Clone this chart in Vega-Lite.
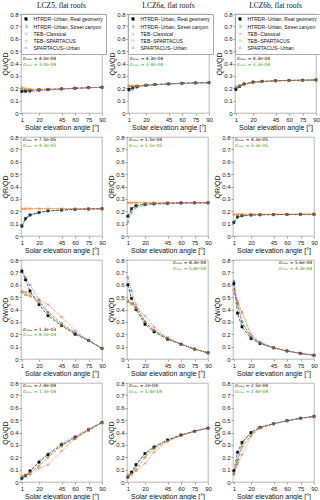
{
"$schema":"https://vega.github.io/schema/vega-lite/v6.json",
"padding":{"left":0,"top":1,"right":1,"bottom":0},
"datasets":{"d":[
{"p":"U5","s":"a","a":1,"v":0.175},{"p":"U5","s":"a","a":5,"v":0.178},{"p":"U5","s":"a","a":10,"v":0.182},{"p":"U5","s":"a","a":20,"v":0.188},{"p":"U5","s":"a","a":30,"v":0.19},{"p":"U5","s":"a","a":45,"v":0.195},{"p":"U5","s":"a","a":60,"v":0.2},{"p":"U5","s":"a","a":75,"v":0.205},{"p":"U5","s":"a","a":90,"v":0.208},
{"p":"U5","s":"b","a":1,"v":0.185},{"p":"U5","s":"b","a":5,"v":0.185},{"p":"U5","s":"b","a":10,"v":0.186},{"p":"U5","s":"b","a":20,"v":0.19},{"p":"U5","s":"b","a":30,"v":0.192},{"p":"U5","s":"b","a":45,"v":0.196},{"p":"U5","s":"b","a":60,"v":0.2},{"p":"U5","s":"b","a":75,"v":0.205},{"p":"U5","s":"b","a":90,"v":0.208},
{"p":"U5","s":"c","a":1,"v":0.2},{"p":"U5","s":"c","a":5,"v":0.195},{"p":"U5","s":"c","a":10,"v":0.19},{"p":"U5","s":"c","a":20,"v":0.19},{"p":"U5","s":"c","a":30,"v":0.19},{"p":"U5","s":"c","a":45,"v":0.195},{"p":"U5","s":"c","a":60,"v":0.2},{"p":"U5","s":"c","a":75,"v":0.205},{"p":"U5","s":"c","a":90,"v":0.208},
{"p":"U5","s":"d","a":1,"v":0.21},{"p":"U5","s":"d","a":5,"v":0.2},{"p":"U5","s":"d","a":10,"v":0.195},{"p":"U5","s":"d","a":20,"v":0.192},{"p":"U5","s":"d","a":30,"v":0.192},{"p":"U5","s":"d","a":45,"v":0.196},{"p":"U5","s":"d","a":60,"v":0.2},{"p":"U5","s":"d","a":75,"v":0.205},{"p":"U5","s":"d","a":90,"v":0.208},
{"p":"U5","s":"e","a":1,"v":0.175},{"p":"U5","s":"e","a":5,"v":0.17},{"p":"U5","s":"e","a":10,"v":0.17},{"p":"U5","s":"e","a":20,"v":0.178},{"p":"U5","s":"e","a":30,"v":0.185},{"p":"U5","s":"e","a":45,"v":0.192},{"p":"U5","s":"e","a":60,"v":0.198},{"p":"U5","s":"e","a":75,"v":0.203},{"p":"U5","s":"e","a":90,"v":0.207},
{"p":"U6a","s":"a","a":1,"v":0.19},{"p":"U6a","s":"a","a":5,"v":0.205},{"p":"U6a","s":"a","a":10,"v":0.215},{"p":"U6a","s":"a","a":20,"v":0.225},{"p":"U6a","s":"a","a":30,"v":0.23},{"p":"U6a","s":"a","a":45,"v":0.235},{"p":"U6a","s":"a","a":60,"v":0.24},{"p":"U6a","s":"a","a":75,"v":0.243},{"p":"U6a","s":"a","a":90,"v":0.245},
{"p":"U6a","s":"b","a":1,"v":0.215},{"p":"U6a","s":"b","a":5,"v":0.215},{"p":"U6a","s":"b","a":10,"v":0.218},{"p":"U6a","s":"b","a":20,"v":0.225},{"p":"U6a","s":"b","a":30,"v":0.23},{"p":"U6a","s":"b","a":45,"v":0.235},{"p":"U6a","s":"b","a":60,"v":0.24},{"p":"U6a","s":"b","a":75,"v":0.243},{"p":"U6a","s":"b","a":90,"v":0.245},
{"p":"U6a","s":"c","a":1,"v":0.22},{"p":"U6a","s":"c","a":5,"v":0.218},{"p":"U6a","s":"c","a":10,"v":0.22},{"p":"U6a","s":"c","a":20,"v":0.225},{"p":"U6a","s":"c","a":30,"v":0.23},{"p":"U6a","s":"c","a":45,"v":0.235},{"p":"U6a","s":"c","a":60,"v":0.24},{"p":"U6a","s":"c","a":75,"v":0.243},{"p":"U6a","s":"c","a":90,"v":0.245},
{"p":"U6a","s":"d","a":1,"v":0.225},{"p":"U6a","s":"d","a":5,"v":0.22},{"p":"U6a","s":"d","a":10,"v":0.22},{"p":"U6a","s":"d","a":20,"v":0.225},{"p":"U6a","s":"d","a":30,"v":0.23},{"p":"U6a","s":"d","a":45,"v":0.235},{"p":"U6a","s":"d","a":60,"v":0.24},{"p":"U6a","s":"d","a":75,"v":0.243},{"p":"U6a","s":"d","a":90,"v":0.245},
{"p":"U6a","s":"e","a":1,"v":0.18},{"p":"U6a","s":"e","a":5,"v":0.19},{"p":"U6a","s":"e","a":10,"v":0.205},{"p":"U6a","s":"e","a":20,"v":0.22},{"p":"U6a","s":"e","a":30,"v":0.228},{"p":"U6a","s":"e","a":45,"v":0.234},{"p":"U6a","s":"e","a":60,"v":0.239},{"p":"U6a","s":"e","a":75,"v":0.243},{"p":"U6a","s":"e","a":90,"v":0.245},
{"p":"U6b","s":"a","a":1,"v":0.19},{"p":"U6b","s":"a","a":5,"v":0.215},{"p":"U6b","s":"a","a":10,"v":0.235},{"p":"U6b","s":"a","a":20,"v":0.25},{"p":"U6b","s":"a","a":30,"v":0.255},{"p":"U6b","s":"a","a":45,"v":0.26},{"p":"U6b","s":"a","a":60,"v":0.263},{"p":"U6b","s":"a","a":75,"v":0.265},{"p":"U6b","s":"a","a":90,"v":0.267},
{"p":"U6b","s":"b","a":1,"v":0.205},{"p":"U6b","s":"b","a":5,"v":0.22},{"p":"U6b","s":"b","a":10,"v":0.235},{"p":"U6b","s":"b","a":20,"v":0.25},{"p":"U6b","s":"b","a":30,"v":0.255},{"p":"U6b","s":"b","a":45,"v":0.26},{"p":"U6b","s":"b","a":60,"v":0.263},{"p":"U6b","s":"b","a":75,"v":0.265},{"p":"U6b","s":"b","a":90,"v":0.267},
{"p":"U6b","s":"c","a":1,"v":0.21},{"p":"U6b","s":"c","a":5,"v":0.22},{"p":"U6b","s":"c","a":10,"v":0.23},{"p":"U6b","s":"c","a":20,"v":0.245},{"p":"U6b","s":"c","a":30,"v":0.253},{"p":"U6b","s":"c","a":45,"v":0.26},{"p":"U6b","s":"c","a":60,"v":0.263},{"p":"U6b","s":"c","a":75,"v":0.265},{"p":"U6b","s":"c","a":90,"v":0.267},
{"p":"U6b","s":"d","a":1,"v":0.215},{"p":"U6b","s":"d","a":5,"v":0.222},{"p":"U6b","s":"d","a":10,"v":0.232},{"p":"U6b","s":"d","a":20,"v":0.247},{"p":"U6b","s":"d","a":30,"v":0.254},{"p":"U6b","s":"d","a":45,"v":0.26},{"p":"U6b","s":"d","a":60,"v":0.263},{"p":"U6b","s":"d","a":75,"v":0.265},{"p":"U6b","s":"d","a":90,"v":0.267},
{"p":"U6b","s":"e","a":1,"v":0.2},{"p":"U6b","s":"e","a":5,"v":0.215},{"p":"U6b","s":"e","a":10,"v":0.23},{"p":"U6b","s":"e","a":20,"v":0.248},{"p":"U6b","s":"e","a":30,"v":0.255},{"p":"U6b","s":"e","a":45,"v":0.26},{"p":"U6b","s":"e","a":60,"v":0.263},{"p":"U6b","s":"e","a":75,"v":0.265},{"p":"U6b","s":"e","a":90,"v":0.267},
{"p":"R5","s":"a","a":1,"v":0.08},{"p":"R5","s":"a","a":5,"v":0.14},{"p":"R5","s":"a","a":10,"v":0.17},{"p":"R5","s":"a","a":20,"v":0.19},{"p":"R5","s":"a","a":30,"v":0.203},{"p":"R5","s":"a","a":45,"v":0.21},{"p":"R5","s":"a","a":60,"v":0.215},{"p":"R5","s":"a","a":75,"v":0.218},{"p":"R5","s":"a","a":90,"v":0.22},
{"p":"R5","s":"b","a":1,"v":0.08},{"p":"R5","s":"b","a":5,"v":0.14},{"p":"R5","s":"b","a":10,"v":0.17},{"p":"R5","s":"b","a":20,"v":0.19},{"p":"R5","s":"b","a":30,"v":0.203},{"p":"R5","s":"b","a":45,"v":0.21},{"p":"R5","s":"b","a":60,"v":0.215},{"p":"R5","s":"b","a":75,"v":0.218},{"p":"R5","s":"b","a":90,"v":0.22},
{"p":"R5","s":"c","a":1,"v":0.222},{"p":"R5","s":"c","a":5,"v":0.222},{"p":"R5","s":"c","a":10,"v":0.222},{"p":"R5","s":"c","a":20,"v":0.222},{"p":"R5","s":"c","a":30,"v":0.222},{"p":"R5","s":"c","a":45,"v":0.222},{"p":"R5","s":"c","a":60,"v":0.222},{"p":"R5","s":"c","a":75,"v":0.222},{"p":"R5","s":"c","a":90,"v":0.222},
{"p":"R5","s":"d","a":1,"v":0.22},{"p":"R5","s":"d","a":5,"v":0.22},{"p":"R5","s":"d","a":10,"v":0.22},{"p":"R5","s":"d","a":20,"v":0.22},{"p":"R5","s":"d","a":30,"v":0.22},{"p":"R5","s":"d","a":45,"v":0.22},{"p":"R5","s":"d","a":60,"v":0.22},{"p":"R5","s":"d","a":75,"v":0.22},{"p":"R5","s":"d","a":90,"v":0.22},
{"p":"R5","s":"e","a":1,"v":0.078},{"p":"R5","s":"e","a":5,"v":0.138},{"p":"R5","s":"e","a":10,"v":0.168},{"p":"R5","s":"e","a":20,"v":0.189},{"p":"R5","s":"e","a":30,"v":0.202},{"p":"R5","s":"e","a":45,"v":0.21},{"p":"R5","s":"e","a":60,"v":0.215},{"p":"R5","s":"e","a":75,"v":0.218},{"p":"R5","s":"e","a":90,"v":0.22},
{"p":"R6a","s":"a","a":1,"v":0.16},{"p":"R6a","s":"a","a":5,"v":0.22},{"p":"R6a","s":"a","a":10,"v":0.245},{"p":"R6a","s":"a","a":20,"v":0.258},{"p":"R6a","s":"a","a":30,"v":0.262},{"p":"R6a","s":"a","a":45,"v":0.265},{"p":"R6a","s":"a","a":60,"v":0.267},{"p":"R6a","s":"a","a":75,"v":0.268},{"p":"R6a","s":"a","a":90,"v":0.268},
{"p":"R6a","s":"b","a":1,"v":0.16},{"p":"R6a","s":"b","a":5,"v":0.22},{"p":"R6a","s":"b","a":10,"v":0.245},{"p":"R6a","s":"b","a":20,"v":0.258},{"p":"R6a","s":"b","a":30,"v":0.262},{"p":"R6a","s":"b","a":45,"v":0.265},{"p":"R6a","s":"b","a":60,"v":0.267},{"p":"R6a","s":"b","a":75,"v":0.268},{"p":"R6a","s":"b","a":90,"v":0.268},
{"p":"R6a","s":"c","a":1,"v":0.27},{"p":"R6a","s":"c","a":5,"v":0.27},{"p":"R6a","s":"c","a":10,"v":0.27},{"p":"R6a","s":"c","a":20,"v":0.27},{"p":"R6a","s":"c","a":30,"v":0.27},{"p":"R6a","s":"c","a":45,"v":0.27},{"p":"R6a","s":"c","a":60,"v":0.27},{"p":"R6a","s":"c","a":75,"v":0.27},{"p":"R6a","s":"c","a":90,"v":0.27},
{"p":"R6a","s":"d","a":1,"v":0.268},{"p":"R6a","s":"d","a":5,"v":0.268},{"p":"R6a","s":"d","a":10,"v":0.268},{"p":"R6a","s":"d","a":20,"v":0.268},{"p":"R6a","s":"d","a":30,"v":0.268},{"p":"R6a","s":"d","a":45,"v":0.268},{"p":"R6a","s":"d","a":60,"v":0.268},{"p":"R6a","s":"d","a":75,"v":0.268},{"p":"R6a","s":"d","a":90,"v":0.268},
{"p":"R6a","s":"e","a":1,"v":0.11},{"p":"R6a","s":"e","a":5,"v":0.19},{"p":"R6a","s":"e","a":10,"v":0.23},{"p":"R6a","s":"e","a":20,"v":0.248},{"p":"R6a","s":"e","a":30,"v":0.255},{"p":"R6a","s":"e","a":45,"v":0.26},{"p":"R6a","s":"e","a":60,"v":0.265},{"p":"R6a","s":"e","a":75,"v":0.267},{"p":"R6a","s":"e","a":90,"v":0.268},
{"p":"R6b","s":"a","a":1,"v":0.11},{"p":"R6b","s":"a","a":5,"v":0.155},{"p":"R6b","s":"a","a":10,"v":0.165},{"p":"R6b","s":"a","a":20,"v":0.17},{"p":"R6b","s":"a","a":30,"v":0.172},{"p":"R6b","s":"a","a":45,"v":0.173},{"p":"R6b","s":"a","a":60,"v":0.174},{"p":"R6b","s":"a","a":75,"v":0.175},{"p":"R6b","s":"a","a":90,"v":0.175},
{"p":"R6b","s":"b","a":1,"v":0.11},{"p":"R6b","s":"b","a":5,"v":0.155},{"p":"R6b","s":"b","a":10,"v":0.165},{"p":"R6b","s":"b","a":20,"v":0.17},{"p":"R6b","s":"b","a":30,"v":0.172},{"p":"R6b","s":"b","a":45,"v":0.173},{"p":"R6b","s":"b","a":60,"v":0.174},{"p":"R6b","s":"b","a":75,"v":0.175},{"p":"R6b","s":"b","a":90,"v":0.175},
{"p":"R6b","s":"c","a":1,"v":0.176},{"p":"R6b","s":"c","a":5,"v":0.176},{"p":"R6b","s":"c","a":10,"v":0.176},{"p":"R6b","s":"c","a":20,"v":0.176},{"p":"R6b","s":"c","a":30,"v":0.176},{"p":"R6b","s":"c","a":45,"v":0.176},{"p":"R6b","s":"c","a":60,"v":0.176},{"p":"R6b","s":"c","a":75,"v":0.176},{"p":"R6b","s":"c","a":90,"v":0.176},
{"p":"R6b","s":"d","a":1,"v":0.175},{"p":"R6b","s":"d","a":5,"v":0.175},{"p":"R6b","s":"d","a":10,"v":0.175},{"p":"R6b","s":"d","a":20,"v":0.175},{"p":"R6b","s":"d","a":30,"v":0.175},{"p":"R6b","s":"d","a":45,"v":0.175},{"p":"R6b","s":"d","a":60,"v":0.175},{"p":"R6b","s":"d","a":75,"v":0.175},{"p":"R6b","s":"d","a":90,"v":0.175},
{"p":"R6b","s":"e","a":1,"v":0.11},{"p":"R6b","s":"e","a":5,"v":0.15},{"p":"R6b","s":"e","a":10,"v":0.162},{"p":"R6b","s":"e","a":20,"v":0.168},{"p":"R6b","s":"e","a":30,"v":0.171},{"p":"R6b","s":"e","a":45,"v":0.173},{"p":"R6b","s":"e","a":60,"v":0.174},{"p":"R6b","s":"e","a":75,"v":0.175},{"p":"R6b","s":"e","a":90,"v":0.175},
{"p":"W5","s":"a","a":1,"v":0.71},{"p":"W5","s":"a","a":5,"v":0.64},{"p":"W5","s":"a","a":10,"v":0.55},{"p":"W5","s":"a","a":20,"v":0.44},{"p":"W5","s":"a","a":30,"v":0.35},{"p":"W5","s":"a","a":45,"v":0.27},{"p":"W5","s":"a","a":60,"v":0.2},{"p":"W5","s":"a","a":75,"v":0.15},{"p":"W5","s":"a","a":90,"v":0.085},
{"p":"W5","s":"b","a":1,"v":0.54},{"p":"W5","s":"b","a":5,"v":0.52},{"p":"W5","s":"b","a":10,"v":0.51},{"p":"W5","s":"b","a":20,"v":0.46},{"p":"W5","s":"b","a":30,"v":0.37},{"p":"W5","s":"b","a":45,"v":0.27},{"p":"W5","s":"b","a":60,"v":0.21},{"p":"W5","s":"b","a":75,"v":0.15},{"p":"W5","s":"b","a":90,"v":0.085},
{"p":"W5","s":"c","a":1,"v":0.55},{"p":"W5","s":"c","a":5,"v":0.54},{"p":"W5","s":"c","a":10,"v":0.53},{"p":"W5","s":"c","a":20,"v":0.48},{"p":"W5","s":"c","a":30,"v":0.44},{"p":"W5","s":"c","a":45,"v":0.34},{"p":"W5","s":"c","a":60,"v":0.23},{"p":"W5","s":"c","a":75,"v":0.15},{"p":"W5","s":"c","a":90,"v":0.085},
{"p":"W5","s":"d","a":1,"v":0.55},{"p":"W5","s":"d","a":5,"v":0.52},{"p":"W5","s":"d","a":10,"v":0.51},{"p":"W5","s":"d","a":20,"v":0.46},{"p":"W5","s":"d","a":30,"v":0.37},{"p":"W5","s":"d","a":45,"v":0.28},{"p":"W5","s":"d","a":60,"v":0.22},{"p":"W5","s":"d","a":75,"v":0.15},{"p":"W5","s":"d","a":90,"v":0.085},
{"p":"W5","s":"e","a":1,"v":0.72},{"p":"W5","s":"e","a":5,"v":0.66},{"p":"W5","s":"e","a":10,"v":0.6},{"p":"W5","s":"e","a":20,"v":0.48},{"p":"W5","s":"e","a":30,"v":0.38},{"p":"W5","s":"e","a":45,"v":0.29},{"p":"W5","s":"e","a":60,"v":0.21},{"p":"W5","s":"e","a":75,"v":0.15},{"p":"W5","s":"e","a":90,"v":0.085},
{"p":"W6a","s":"a","a":1,"v":0.6},{"p":"W6a","s":"a","a":5,"v":0.49},{"p":"W6a","s":"a","a":10,"v":0.4},{"p":"W6a","s":"a","a":20,"v":0.28},{"p":"W6a","s":"a","a":30,"v":0.22},{"p":"W6a","s":"a","a":45,"v":0.16},{"p":"W6a","s":"a","a":60,"v":0.12},{"p":"W6a","s":"a","a":75,"v":0.08},{"p":"W6a","s":"a","a":90,"v":0.05},
{"p":"W6a","s":"b","a":1,"v":0.47},{"p":"W6a","s":"b","a":5,"v":0.45},{"p":"W6a","s":"b","a":10,"v":0.41},{"p":"W6a","s":"b","a":20,"v":0.3},{"p":"W6a","s":"b","a":30,"v":0.23},{"p":"W6a","s":"b","a":45,"v":0.165},{"p":"W6a","s":"b","a":60,"v":0.12},{"p":"W6a","s":"b","a":75,"v":0.08},{"p":"W6a","s":"b","a":90,"v":0.05},
{"p":"W6a","s":"c","a":1,"v":0.46},{"p":"W6a","s":"c","a":5,"v":0.45},{"p":"W6a","s":"c","a":10,"v":0.42},{"p":"W6a","s":"c","a":20,"v":0.35},{"p":"W6a","s":"c","a":30,"v":0.26},{"p":"W6a","s":"c","a":45,"v":0.175},{"p":"W6a","s":"c","a":60,"v":0.12},{"p":"W6a","s":"c","a":75,"v":0.08},{"p":"W6a","s":"c","a":90,"v":0.05},
{"p":"W6a","s":"d","a":1,"v":0.48},{"p":"W6a","s":"d","a":5,"v":0.44},{"p":"W6a","s":"d","a":10,"v":0.41},{"p":"W6a","s":"d","a":20,"v":0.31},{"p":"W6a","s":"d","a":30,"v":0.24},{"p":"W6a","s":"d","a":45,"v":0.17},{"p":"W6a","s":"d","a":60,"v":0.12},{"p":"W6a","s":"d","a":75,"v":0.08},{"p":"W6a","s":"d","a":90,"v":0.05},
{"p":"W6a","s":"e","a":1,"v":0.66},{"p":"W6a","s":"e","a":5,"v":0.55},{"p":"W6a","s":"e","a":10,"v":0.44},{"p":"W6a","s":"e","a":20,"v":0.3},{"p":"W6a","s":"e","a":30,"v":0.23},{"p":"W6a","s":"e","a":45,"v":0.165},{"p":"W6a","s":"e","a":60,"v":0.12},{"p":"W6a","s":"e","a":75,"v":0.08},{"p":"W6a","s":"e","a":90,"v":0.05},
{"p":"W6b","s":"a","a":1,"v":0.61},{"p":"W6b","s":"a","a":5,"v":0.37},{"p":"W6b","s":"a","a":10,"v":0.26},{"p":"W6b","s":"a","a":20,"v":0.165},{"p":"W6b","s":"a","a":30,"v":0.125},{"p":"W6b","s":"a","a":45,"v":0.09},{"p":"W6b","s":"a","a":60,"v":0.065},{"p":"W6b","s":"a","a":75,"v":0.045},{"p":"W6b","s":"a","a":90,"v":0.03},
{"p":"W6b","s":"b","a":1,"v":0.56},{"p":"W6b","s":"b","a":5,"v":0.44},{"p":"W6b","s":"b","a":10,"v":0.3},{"p":"W6b","s":"b","a":20,"v":0.18},{"p":"W6b","s":"b","a":30,"v":0.13},{"p":"W6b","s":"b","a":45,"v":0.09},{"p":"W6b","s":"b","a":60,"v":0.065},{"p":"W6b","s":"b","a":75,"v":0.045},{"p":"W6b","s":"b","a":90,"v":0.03},
{"p":"W6b","s":"c","a":1,"v":0.53},{"p":"W6b","s":"c","a":5,"v":0.47},{"p":"W6b","s":"c","a":10,"v":0.38},{"p":"W6b","s":"c","a":20,"v":0.2},{"p":"W6b","s":"c","a":30,"v":0.14},{"p":"W6b","s":"c","a":45,"v":0.09},{"p":"W6b","s":"c","a":60,"v":0.065},{"p":"W6b","s":"c","a":75,"v":0.045},{"p":"W6b","s":"c","a":90,"v":0.03},
{"p":"W6b","s":"d","a":1,"v":0.56},{"p":"W6b","s":"d","a":5,"v":0.46},{"p":"W6b","s":"d","a":10,"v":0.37},{"p":"W6b","s":"d","a":20,"v":0.19},{"p":"W6b","s":"d","a":30,"v":0.135},{"p":"W6b","s":"d","a":45,"v":0.09},{"p":"W6b","s":"d","a":60,"v":0.065},{"p":"W6b","s":"d","a":75,"v":0.045},{"p":"W6b","s":"d","a":90,"v":0.03},
{"p":"W6b","s":"e","a":1,"v":0.63},{"p":"W6b","s":"e","a":5,"v":0.45},{"p":"W6b","s":"e","a":10,"v":0.3},{"p":"W6b","s":"e","a":20,"v":0.175},{"p":"W6b","s":"e","a":30,"v":0.13},{"p":"W6b","s":"e","a":45,"v":0.09},{"p":"W6b","s":"e","a":60,"v":0.065},{"p":"W6b","s":"e","a":75,"v":0.045},{"p":"W6b","s":"e","a":90,"v":0.03},
{"p":"G5","s":"a","a":1,"v":0.03},{"p":"G5","s":"a","a":5,"v":0.05},{"p":"G5","s":"a","a":10,"v":0.09},{"p":"G5","s":"a","a":20,"v":0.16},{"p":"G5","s":"a","a":30,"v":0.22},{"p":"G5","s":"a","a":45,"v":0.3},{"p":"G5","s":"a","a":60,"v":0.36},{"p":"G5","s":"a","a":75,"v":0.42},{"p":"G5","s":"a","a":90,"v":0.48},
{"p":"G5","s":"b","a":1,"v":0.04},{"p":"G5","s":"b","a":5,"v":0.05},{"p":"G5","s":"b","a":10,"v":0.07},{"p":"G5","s":"b","a":20,"v":0.13},{"p":"G5","s":"b","a":30,"v":0.2},{"p":"G5","s":"b","a":45,"v":0.29},{"p":"G5","s":"b","a":60,"v":0.35},{"p":"G5","s":"b","a":75,"v":0.42},{"p":"G5","s":"b","a":90,"v":0.48},
{"p":"G5","s":"c","a":1,"v":0.05},{"p":"G5","s":"c","a":5,"v":0.06},{"p":"G5","s":"c","a":10,"v":0.06},{"p":"G5","s":"c","a":20,"v":0.11},{"p":"G5","s":"c","a":30,"v":0.14},{"p":"G5","s":"c","a":45,"v":0.25},{"p":"G5","s":"c","a":60,"v":0.35},{"p":"G5","s":"c","a":75,"v":0.42},{"p":"G5","s":"c","a":90,"v":0.48},
{"p":"G5","s":"d","a":1,"v":0.045},{"p":"G5","s":"d","a":5,"v":0.055},{"p":"G5","s":"d","a":10,"v":0.08},{"p":"G5","s":"d","a":20,"v":0.13},{"p":"G5","s":"d","a":30,"v":0.2},{"p":"G5","s":"d","a":45,"v":0.29},{"p":"G5","s":"d","a":60,"v":0.36},{"p":"G5","s":"d","a":75,"v":0.42},{"p":"G5","s":"d","a":90,"v":0.48},
{"p":"G5","s":"e","a":1,"v":0.03},{"p":"G5","s":"e","a":5,"v":0.05},{"p":"G5","s":"e","a":10,"v":0.08},{"p":"G5","s":"e","a":20,"v":0.17},{"p":"G5","s":"e","a":30,"v":0.23},{"p":"G5","s":"e","a":45,"v":0.31},{"p":"G5","s":"e","a":60,"v":0.37},{"p":"G5","s":"e","a":75,"v":0.43},{"p":"G5","s":"e","a":90,"v":0.48},
{"p":"G6a","s":"a","a":1,"v":0.04},{"p":"G6a","s":"a","a":5,"v":0.08},{"p":"G6a","s":"a","a":10,"v":0.14},{"p":"G6a","s":"a","a":20,"v":0.23},{"p":"G6a","s":"a","a":30,"v":0.28},{"p":"G6a","s":"a","a":45,"v":0.34},{"p":"G6a","s":"a","a":60,"v":0.38},{"p":"G6a","s":"a","a":75,"v":0.41},{"p":"G6a","s":"a","a":90,"v":0.435},
{"p":"G6a","s":"b","a":1,"v":0.05},{"p":"G6a","s":"b","a":5,"v":0.06},{"p":"G6a","s":"b","a":10,"v":0.1},{"p":"G6a","s":"b","a":20,"v":0.2},{"p":"G6a","s":"b","a":30,"v":0.27},{"p":"G6a","s":"b","a":45,"v":0.33},{"p":"G6a","s":"b","a":60,"v":0.375},{"p":"G6a","s":"b","a":75,"v":0.41},{"p":"G6a","s":"b","a":90,"v":0.435},
{"p":"G6a","s":"c","a":1,"v":0.06},{"p":"G6a","s":"c","a":5,"v":0.07},{"p":"G6a","s":"c","a":10,"v":0.09},{"p":"G6a","s":"c","a":20,"v":0.15},{"p":"G6a","s":"c","a":30,"v":0.24},{"p":"G6a","s":"c","a":45,"v":0.33},{"p":"G6a","s":"c","a":60,"v":0.375},{"p":"G6a","s":"c","a":75,"v":0.41},{"p":"G6a","s":"c","a":90,"v":0.435},
{"p":"G6a","s":"d","a":1,"v":0.05},{"p":"G6a","s":"d","a":5,"v":0.065},{"p":"G6a","s":"d","a":10,"v":0.1},{"p":"G6a","s":"d","a":20,"v":0.2},{"p":"G6a","s":"d","a":30,"v":0.27},{"p":"G6a","s":"d","a":45,"v":0.33},{"p":"G6a","s":"d","a":60,"v":0.375},{"p":"G6a","s":"d","a":75,"v":0.41},{"p":"G6a","s":"d","a":90,"v":0.435},
{"p":"G6a","s":"e","a":1,"v":0.04},{"p":"G6a","s":"e","a":5,"v":0.07},{"p":"G6a","s":"e","a":10,"v":0.13},{"p":"G6a","s":"e","a":20,"v":0.23},{"p":"G6a","s":"e","a":30,"v":0.29},{"p":"G6a","s":"e","a":45,"v":0.34},{"p":"G6a","s":"e","a":60,"v":0.38},{"p":"G6a","s":"e","a":75,"v":0.41},{"p":"G6a","s":"e","a":90,"v":0.435},
{"p":"G6b","s":"a","a":1,"v":0.09},{"p":"G6b","s":"a","a":5,"v":0.24},{"p":"G6b","s":"a","a":10,"v":0.32},{"p":"G6b","s":"a","a":20,"v":0.4},{"p":"G6b","s":"a","a":30,"v":0.44},{"p":"G6b","s":"a","a":45,"v":0.47},{"p":"G6b","s":"a","a":60,"v":0.495},{"p":"G6b","s":"a","a":75,"v":0.515},{"p":"G6b","s":"a","a":90,"v":0.53},
{"p":"G6b","s":"b","a":1,"v":0.07},{"p":"G6b","s":"b","a":5,"v":0.16},{"p":"G6b","s":"b","a":10,"v":0.28},{"p":"G6b","s":"b","a":20,"v":0.38},{"p":"G6b","s":"b","a":30,"v":0.435},{"p":"G6b","s":"b","a":45,"v":0.47},{"p":"G6b","s":"b","a":60,"v":0.495},{"p":"G6b","s":"b","a":75,"v":0.515},{"p":"G6b","s":"b","a":90,"v":0.53},
{"p":"G6b","s":"c","a":1,"v":0.08},{"p":"G6b","s":"c","a":5,"v":0.14},{"p":"G6b","s":"c","a":10,"v":0.22},{"p":"G6b","s":"c","a":20,"v":0.37},{"p":"G6b","s":"c","a":30,"v":0.44},{"p":"G6b","s":"c","a":45,"v":0.47},{"p":"G6b","s":"c","a":60,"v":0.495},{"p":"G6b","s":"c","a":75,"v":0.515},{"p":"G6b","s":"c","a":90,"v":0.53},
{"p":"G6b","s":"d","a":1,"v":0.07},{"p":"G6b","s":"d","a":5,"v":0.17},{"p":"G6b","s":"d","a":10,"v":0.29},{"p":"G6b","s":"d","a":20,"v":0.38},{"p":"G6b","s":"d","a":30,"v":0.44},{"p":"G6b","s":"d","a":45,"v":0.47},{"p":"G6b","s":"d","a":60,"v":0.495},{"p":"G6b","s":"d","a":75,"v":0.515},{"p":"G6b","s":"d","a":90,"v":0.53},
{"p":"G6b","s":"e","a":1,"v":0.06},{"p":"G6b","s":"e","a":5,"v":0.18},{"p":"G6b","s":"e","a":10,"v":0.31},{"p":"G6b","s":"e","a":20,"v":0.4},{"p":"G6b","s":"e","a":30,"v":0.445},{"p":"G6b","s":"e","a":45,"v":0.47},{"p":"G6b","s":"e","a":60,"v":0.495},{"p":"G6b","s":"e","a":75,"v":0.515},{"p":"G6b","s":"e","a":90,"v":0.53}
]},
"spacing":2,
"resolve":{"scale":{"color":"independent","shape":"independent","fill":"independent","strokeDash":"independent"},"legend":{"color":"independent","shape":"independent","fill":"independent","strokeDash":"independent"}},
"vconcat":[
{"hconcat":[
{"width":81,"height":99,"title":"LCZ5, flat roofs","data":{"name":"d"},"layer":[
{"transform":[{"filter":"datum.p=='U5'"}],"mark":"line","encoding":{"x":{"field":"a","type":"quantitative","scale":{"domain":[0,90]},"axis":{"values":[1,20,45,60,75,90],"tickCount":20,"labelOverlap":false,"title":"Solar elevation angle [°]"}},"y":{"field":"v","type":"quantitative","scale":{"domain":[0,0.8]},"axis":{"values":[0,0.1,0.2,0.3,0.4,0.5,0.6,0.7,0.8],"tickCount":20,"labelOverlap":false,"format":"~g","title":"Q\u0307U/Q\u0307D"}},"color":{"field":"s","type":"nominal","scale":{"domain":["a","b","c","d","e"],"range":["#000000","#2ca02c","#ff3030","#ffa020","#3030d0"]},"legend":{"labelExpr":"datum.value=='a'?'HTRDR\u2212Urban, Real geometry':datum.value=='b'?'HTRDR\u2212Urban, Street canyon':datum.value=='c'?'TEB\u2212Classical':datum.value=='d'?'TEB\u2212SPARTACUS':'SPARTACUS\u2212Urban'"}},"strokeDash":{"field":"s","type":"nominal","scale":{"domain":["a","b","c","d","e"],"range":[[3,1.5],[3,1.5],[1,1],[3,1.5],[1,1]]},"legend":null}}},
{"transform":[{"filter":"datum.p=='U5'"}],"mark":"point","encoding":{"x":{"field":"a","type":"quantitative"},"y":{"field":"v","type":"quantitative"},"color":{"field":"s","type":"nominal","scale":{"domain":["a","b","c","d","e"],"range":["#000000","#2ca02c","#ff3030","#ffa020","#3030d0"]},"legend":{"labelExpr":"datum.value=='a'?'HTRDR\u2212Urban, Real geometry':datum.value=='b'?'HTRDR\u2212Urban, Street canyon':datum.value=='c'?'TEB\u2212Classical':datum.value=='d'?'TEB\u2212SPARTACUS':'SPARTACUS\u2212Urban'"}},"shape":{"field":"s","type":"nominal","scale":{"domain":["a","b","c","d","e"],"range":["square","circle","M-1,-1L1,1M-1,1L1,-1","triangle-up","diamond"]},"legend":{"labelExpr":"datum.value=='a'?'HTRDR\u2212Urban, Real geometry':datum.value=='b'?'HTRDR\u2212Urban, Street canyon':datum.value=='c'?'TEB\u2212Classical':datum.value=='d'?'TEB\u2212SPARTACUS':'SPARTACUS\u2212Urban'"}},"fill":{"field":"s","type":"nominal","scale":{"domain":["a","b","c","d","e"],"range":["#000000","transparent","transparent","transparent","transparent"]},"legend":null}}},
{"data":{"values":[{}]},"mark":{"type":"text","text":"σₘₐₓ = 4.0e-04","color":"#000000"},"encoding":{"x":{"datum":2},"y":{"datum":0.44}}},
{"data":{"values":[{}]},"mark":{"type":"text","text":"σₘₐₓ = 3.0e-04","color":"#2ca02c"},"encoding":{"x":{"datum":2},"y":{"datum":0.39}}}
]},
{"width":81,"height":99,"title":"LCZ6a, flat roofs","data":{"name":"d"},"layer":[
{"transform":[{"filter":"datum.p=='U6a'"}],"mark":"line","encoding":{"x":{"field":"a","type":"quantitative","scale":{"domain":[0,90]},"axis":{"values":[1,20,45,60,75,90],"tickCount":20,"labelOverlap":false,"title":"Solar elevation angle [°]"}},"y":{"field":"v","type":"quantitative","scale":{"domain":[0,0.8]},"axis":{"values":[0,0.1,0.2,0.3,0.4,0.5,0.6,0.7,0.8],"tickCount":20,"labelOverlap":false,"format":"~g","title":"Q\u0307U/Q\u0307D"}},"color":{"field":"s","type":"nominal","scale":{"domain":["a","b","c","d","e"],"range":["#000000","#2ca02c","#ff3030","#ffa020","#3030d0"]},"legend":{"labelExpr":"datum.value=='a'?'HTRDR\u2212Urban, Real geometry':datum.value=='b'?'HTRDR\u2212Urban, Street canyon':datum.value=='c'?'TEB\u2212Classical':datum.value=='d'?'TEB\u2212SPARTACUS':'SPARTACUS\u2212Urban'"}},"strokeDash":{"field":"s","type":"nominal","scale":{"domain":["a","b","c","d","e"],"range":[[3,1.5],[3,1.5],[1,1],[3,1.5],[1,1]]},"legend":null}}},
{"transform":[{"filter":"datum.p=='U6a'"}],"mark":"point","encoding":{"x":{"field":"a","type":"quantitative"},"y":{"field":"v","type":"quantitative"},"color":{"field":"s","type":"nominal","scale":{"domain":["a","b","c","d","e"],"range":["#000000","#2ca02c","#ff3030","#ffa020","#3030d0"]},"legend":{"labelExpr":"datum.value=='a'?'HTRDR\u2212Urban, Real geometry':datum.value=='b'?'HTRDR\u2212Urban, Street canyon':datum.value=='c'?'TEB\u2212Classical':datum.value=='d'?'TEB\u2212SPARTACUS':'SPARTACUS\u2212Urban'"}},"shape":{"field":"s","type":"nominal","scale":{"domain":["a","b","c","d","e"],"range":["square","circle","M-1,-1L1,1M-1,1L1,-1","triangle-up","diamond"]},"legend":{"labelExpr":"datum.value=='a'?'HTRDR\u2212Urban, Real geometry':datum.value=='b'?'HTRDR\u2212Urban, Street canyon':datum.value=='c'?'TEB\u2212Classical':datum.value=='d'?'TEB\u2212SPARTACUS':'SPARTACUS\u2212Urban'"}},"fill":{"field":"s","type":"nominal","scale":{"domain":["a","b","c","d","e"],"range":["#000000","transparent","transparent","transparent","transparent"]},"legend":null}}},
{"data":{"values":[{}]},"mark":{"type":"text","text":"σₘₐₓ = 4.3e-04","color":"#000000"},"encoding":{"x":{"datum":2},"y":{"datum":0.44}}},
{"data":{"values":[{}]},"mark":{"type":"text","text":"σₘₐₓ = 3.4e-04","color":"#2ca02c"},"encoding":{"x":{"datum":2},"y":{"datum":0.39}}}
]},
{"width":81,"height":99,"title":"LCZ6b, flat roofs","data":{"name":"d"},"layer":[
{"transform":[{"filter":"datum.p=='U6b'"}],"mark":"line","encoding":{"x":{"field":"a","type":"quantitative","scale":{"domain":[0,90]},"axis":{"values":[1,20,45,60,75,90],"tickCount":20,"labelOverlap":false,"title":"Solar elevation angle [°]"}},"y":{"field":"v","type":"quantitative","scale":{"domain":[0,0.8]},"axis":{"values":[0,0.1,0.2,0.3,0.4,0.5,0.6,0.7,0.8],"tickCount":20,"labelOverlap":false,"format":"~g","title":"Q\u0307U/Q\u0307D"}},"color":{"field":"s","type":"nominal","scale":{"domain":["a","b","c","d","e"],"range":["#000000","#2ca02c","#ff3030","#ffa020","#3030d0"]},"legend":{"labelExpr":"datum.value=='a'?'HTRDR\u2212Urban, Real geometry':datum.value=='b'?'HTRDR\u2212Urban, Street canyon':datum.value=='c'?'TEB\u2212Classical':datum.value=='d'?'TEB\u2212SPARTACUS':'SPARTACUS\u2212Urban'"}},"strokeDash":{"field":"s","type":"nominal","scale":{"domain":["a","b","c","d","e"],"range":[[3,1.5],[3,1.5],[1,1],[3,1.5],[1,1]]},"legend":null}}},
{"transform":[{"filter":"datum.p=='U6b'"}],"mark":"point","encoding":{"x":{"field":"a","type":"quantitative"},"y":{"field":"v","type":"quantitative"},"color":{"field":"s","type":"nominal","scale":{"domain":["a","b","c","d","e"],"range":["#000000","#2ca02c","#ff3030","#ffa020","#3030d0"]},"legend":{"labelExpr":"datum.value=='a'?'HTRDR\u2212Urban, Real geometry':datum.value=='b'?'HTRDR\u2212Urban, Street canyon':datum.value=='c'?'TEB\u2212Classical':datum.value=='d'?'TEB\u2212SPARTACUS':'SPARTACUS\u2212Urban'"}},"shape":{"field":"s","type":"nominal","scale":{"domain":["a","b","c","d","e"],"range":["square","circle","M-1,-1L1,1M-1,1L1,-1","triangle-up","diamond"]},"legend":{"labelExpr":"datum.value=='a'?'HTRDR\u2212Urban, Real geometry':datum.value=='b'?'HTRDR\u2212Urban, Street canyon':datum.value=='c'?'TEB\u2212Classical':datum.value=='d'?'TEB\u2212SPARTACUS':'SPARTACUS\u2212Urban'"}},"fill":{"field":"s","type":"nominal","scale":{"domain":["a","b","c","d","e"],"range":["#000000","transparent","transparent","transparent","transparent"]},"legend":null}}},
{"data":{"values":[{}]},"mark":{"type":"text","text":"σₘₐₓ = 4.3e-04","color":"#000000"},"encoding":{"x":{"datum":2},"y":{"datum":0.44}}},
{"data":{"values":[{}]},"mark":{"type":"text","text":"σₘₐₓ = 3.3e-04","color":"#2ca02c"},"encoding":{"x":{"datum":2},"y":{"datum":0.39}}}
]}
],"spacing":0,"resolve":{"scale":{"color":"independent","shape":"independent","fill":"independent","strokeDash":"independent"},"legend":{"color":"independent","shape":"independent","fill":"independent","strokeDash":"independent"}}},
{"hconcat":[
{"width":81,"height":99,"data":{"name":"d"},"layer":[
{"transform":[{"filter":"datum.p=='R5'"}],"mark":"line","encoding":{"x":{"field":"a","type":"quantitative","scale":{"domain":[0,90]},"axis":{"values":[1,20,45,60,75,90],"tickCount":20,"labelOverlap":false,"title":"Solar elevation angle [°]"}},"y":{"field":"v","type":"quantitative","scale":{"domain":[0,0.8]},"axis":{"values":[0,0.1,0.2,0.3,0.4,0.5,0.6,0.7,0.8],"tickCount":20,"labelOverlap":false,"format":"~g","title":"Q\u0307R/Q\u0307D"}},"color":{"field":"s","type":"nominal","scale":{"domain":["a","b","c","d","e"],"range":["#000000","#2ca02c","#ff3030","#ffa020","#3030d0"]},"legend":null},"strokeDash":{"field":"s","type":"nominal","scale":{"domain":["a","b","c","d","e"],"range":[[3,1.5],[3,1.5],[1,1],[3,1.5],[1,1]]},"legend":null}}},
{"transform":[{"filter":"datum.p=='R5'"}],"mark":"point","encoding":{"x":{"field":"a","type":"quantitative"},"y":{"field":"v","type":"quantitative"},"color":{"field":"s","type":"nominal","scale":{"domain":["a","b","c","d","e"],"range":["#000000","#2ca02c","#ff3030","#ffa020","#3030d0"]},"legend":null},"shape":{"field":"s","type":"nominal","scale":{"domain":["a","b","c","d","e"],"range":["square","circle","M-1,-1L1,1M-1,1L1,-1","triangle-up","diamond"]},"legend":null},"fill":{"field":"s","type":"nominal","scale":{"domain":["a","b","c","d","e"],"range":["#000000","transparent","transparent","transparent","transparent"]},"legend":null}}},
{"data":{"values":[{}]},"mark":{"type":"text","text":"σₘₐₓ = 7.5e-05","color":"#000000"},"encoding":{"x":{"datum":2},"y":{"datum":0.775}}},
{"data":{"values":[{}]},"mark":{"type":"text","text":"σₘₐₓ = 4.3e-05","color":"#2ca02c"},"encoding":{"x":{"datum":2},"y":{"datum":0.73}}}
]},
{"width":81,"height":99,"data":{"name":"d"},"layer":[
{"transform":[{"filter":"datum.p=='R6a'"}],"mark":"line","encoding":{"x":{"field":"a","type":"quantitative","scale":{"domain":[0,90]},"axis":{"values":[1,20,45,60,75,90],"tickCount":20,"labelOverlap":false,"title":"Solar elevation angle [°]"}},"y":{"field":"v","type":"quantitative","scale":{"domain":[0,0.8]},"axis":{"values":[0,0.1,0.2,0.3,0.4,0.5,0.6,0.7,0.8],"tickCount":20,"labelOverlap":false,"format":"~g","title":"Q\u0307R/Q\u0307D"}},"color":{"field":"s","type":"nominal","scale":{"domain":["a","b","c","d","e"],"range":["#000000","#2ca02c","#ff3030","#ffa020","#3030d0"]},"legend":null},"strokeDash":{"field":"s","type":"nominal","scale":{"domain":["a","b","c","d","e"],"range":[[3,1.5],[3,1.5],[1,1],[3,1.5],[1,1]]},"legend":null}}},
{"transform":[{"filter":"datum.p=='R6a'"}],"mark":"point","encoding":{"x":{"field":"a","type":"quantitative"},"y":{"field":"v","type":"quantitative"},"color":{"field":"s","type":"nominal","scale":{"domain":["a","b","c","d","e"],"range":["#000000","#2ca02c","#ff3030","#ffa020","#3030d0"]},"legend":null},"shape":{"field":"s","type":"nominal","scale":{"domain":["a","b","c","d","e"],"range":["square","circle","M-1,-1L1,1M-1,1L1,-1","triangle-up","diamond"]},"legend":null},"fill":{"field":"s","type":"nominal","scale":{"domain":["a","b","c","d","e"],"range":["#000000","transparent","transparent","transparent","transparent"]},"legend":null}}},
{"data":{"values":[{}]},"mark":{"type":"text","text":"σₘₐₓ = 1.5e-04","color":"#000000"},"encoding":{"x":{"datum":2},"y":{"datum":0.775}}},
{"data":{"values":[{}]},"mark":{"type":"text","text":"σₘₐₓ = 5.1e-05","color":"#2ca02c"},"encoding":{"x":{"datum":2},"y":{"datum":0.73}}}
]},
{"width":81,"height":99,"data":{"name":"d"},"layer":[
{"transform":[{"filter":"datum.p=='R6b'"}],"mark":"line","encoding":{"x":{"field":"a","type":"quantitative","scale":{"domain":[0,90]},"axis":{"values":[1,20,45,60,75,90],"tickCount":20,"labelOverlap":false,"title":"Solar elevation angle [°]"}},"y":{"field":"v","type":"quantitative","scale":{"domain":[0,0.8]},"axis":{"values":[0,0.1,0.2,0.3,0.4,0.5,0.6,0.7,0.8],"tickCount":20,"labelOverlap":false,"format":"~g","title":"Q\u0307R/Q\u0307D"}},"color":{"field":"s","type":"nominal","scale":{"domain":["a","b","c","d","e"],"range":["#000000","#2ca02c","#ff3030","#ffa020","#3030d0"]},"legend":null},"strokeDash":{"field":"s","type":"nominal","scale":{"domain":["a","b","c","d","e"],"range":[[3,1.5],[3,1.5],[1,1],[3,1.5],[1,1]]},"legend":null}}},
{"transform":[{"filter":"datum.p=='R6b'"}],"mark":"point","encoding":{"x":{"field":"a","type":"quantitative"},"y":{"field":"v","type":"quantitative"},"color":{"field":"s","type":"nominal","scale":{"domain":["a","b","c","d","e"],"range":["#000000","#2ca02c","#ff3030","#ffa020","#3030d0"]},"legend":null},"shape":{"field":"s","type":"nominal","scale":{"domain":["a","b","c","d","e"],"range":["square","circle","M-1,-1L1,1M-1,1L1,-1","triangle-up","diamond"]},"legend":null},"fill":{"field":"s","type":"nominal","scale":{"domain":["a","b","c","d","e"],"range":["#000000","transparent","transparent","transparent","transparent"]},"legend":null}}},
{"data":{"values":[{}]},"mark":{"type":"text","text":"σₘₐₓ = 4.3e-05","color":"#000000"},"encoding":{"x":{"datum":2},"y":{"datum":0.775}}},
{"data":{"values":[{}]},"mark":{"type":"text","text":"σₘₐₓ = 3.3e-05","color":"#2ca02c"},"encoding":{"x":{"datum":2},"y":{"datum":0.73}}}
]}
],"spacing":0,"resolve":{"scale":{"color":"independent","shape":"independent","fill":"independent","strokeDash":"independent"},"legend":{"color":"independent","shape":"independent","fill":"independent","strokeDash":"independent"}}},
{"hconcat":[
{"width":81,"height":99,"data":{"name":"d"},"layer":[
{"transform":[{"filter":"datum.p=='W5'"}],"mark":"line","encoding":{"x":{"field":"a","type":"quantitative","scale":{"domain":[0,90]},"axis":{"values":[1,20,45,60,75,90],"tickCount":20,"labelOverlap":false,"title":"Solar elevation angle [°]"}},"y":{"field":"v","type":"quantitative","scale":{"domain":[0,0.8]},"axis":{"values":[0,0.1,0.2,0.3,0.4,0.5,0.6,0.7,0.8],"tickCount":20,"labelOverlap":false,"format":"~g","title":"Q\u0307W/Q\u0307D"}},"color":{"field":"s","type":"nominal","scale":{"domain":["a","b","c","d","e"],"range":["#000000","#2ca02c","#ff3030","#ffa020","#3030d0"]},"legend":null},"strokeDash":{"field":"s","type":"nominal","scale":{"domain":["a","b","c","d","e"],"range":[[3,1.5],[3,1.5],[1,1],[3,1.5],[1,1]]},"legend":null}}},
{"transform":[{"filter":"datum.p=='W5'"}],"mark":"point","encoding":{"x":{"field":"a","type":"quantitative"},"y":{"field":"v","type":"quantitative"},"color":{"field":"s","type":"nominal","scale":{"domain":["a","b","c","d","e"],"range":["#000000","#2ca02c","#ff3030","#ffa020","#3030d0"]},"legend":null},"shape":{"field":"s","type":"nominal","scale":{"domain":["a","b","c","d","e"],"range":["square","circle","M-1,-1L1,1M-1,1L1,-1","triangle-up","diamond"]},"legend":null},"fill":{"field":"s","type":"nominal","scale":{"domain":["a","b","c","d","e"],"range":["#000000","transparent","transparent","transparent","transparent"]},"legend":null}}},
{"data":{"values":[{}]},"mark":{"type":"text","text":"σₘₐₓ = 1.3e-03","color":"#000000"},"encoding":{"x":{"datum":2},"y":{"datum":0.235}}},
{"data":{"values":[{}]},"mark":{"type":"text","text":"σₘₐₓ = 8.5e-04","color":"#2ca02c"},"encoding":{"x":{"datum":2},"y":{"datum":0.19}}}
]},
{"width":81,"height":99,"data":{"name":"d"},"layer":[
{"transform":[{"filter":"datum.p=='W6a'"}],"mark":"line","encoding":{"x":{"field":"a","type":"quantitative","scale":{"domain":[0,90]},"axis":{"values":[1,20,45,60,75,90],"tickCount":20,"labelOverlap":false,"title":"Solar elevation angle [°]"}},"y":{"field":"v","type":"quantitative","scale":{"domain":[0,0.8]},"axis":{"values":[0,0.1,0.2,0.3,0.4,0.5,0.6,0.7,0.8],"tickCount":20,"labelOverlap":false,"format":"~g","title":"Q\u0307W/Q\u0307D"}},"color":{"field":"s","type":"nominal","scale":{"domain":["a","b","c","d","e"],"range":["#000000","#2ca02c","#ff3030","#ffa020","#3030d0"]},"legend":null},"strokeDash":{"field":"s","type":"nominal","scale":{"domain":["a","b","c","d","e"],"range":[[3,1.5],[3,1.5],[1,1],[3,1.5],[1,1]]},"legend":null}}},
{"transform":[{"filter":"datum.p=='W6a'"}],"mark":"point","encoding":{"x":{"field":"a","type":"quantitative"},"y":{"field":"v","type":"quantitative"},"color":{"field":"s","type":"nominal","scale":{"domain":["a","b","c","d","e"],"range":["#000000","#2ca02c","#ff3030","#ffa020","#3030d0"]},"legend":null},"shape":{"field":"s","type":"nominal","scale":{"domain":["a","b","c","d","e"],"range":["square","circle","M-1,-1L1,1M-1,1L1,-1","triangle-up","diamond"]},"legend":null},"fill":{"field":"s","type":"nominal","scale":{"domain":["a","b","c","d","e"],"range":["#000000","transparent","transparent","transparent","transparent"]},"legend":null}}},
{"data":{"values":[{}]},"mark":{"type":"text","text":"σₘₐₓ = 8.3e-04","color":"#000000","align":"right"},"encoding":{"x":{"datum":88},"y":{"datum":0.775}}},
{"data":{"values":[{}]},"mark":{"type":"text","text":"σₘₐₓ = 5.8e-04","color":"#2ca02c","align":"right"},"encoding":{"x":{"datum":88},"y":{"datum":0.73}}}
]},
{"width":81,"height":99,"data":{"name":"d"},"layer":[
{"transform":[{"filter":"datum.p=='W6b'"}],"mark":"line","encoding":{"x":{"field":"a","type":"quantitative","scale":{"domain":[0,90]},"axis":{"values":[1,20,45,60,75,90],"tickCount":20,"labelOverlap":false,"title":"Solar elevation angle [°]"}},"y":{"field":"v","type":"quantitative","scale":{"domain":[0,0.8]},"axis":{"values":[0,0.1,0.2,0.3,0.4,0.5,0.6,0.7,0.8],"tickCount":20,"labelOverlap":false,"format":"~g","title":"Q\u0307W/Q\u0307D"}},"color":{"field":"s","type":"nominal","scale":{"domain":["a","b","c","d","e"],"range":["#000000","#2ca02c","#ff3030","#ffa020","#3030d0"]},"legend":null},"strokeDash":{"field":"s","type":"nominal","scale":{"domain":["a","b","c","d","e"],"range":[[3,1.5],[3,1.5],[1,1],[3,1.5],[1,1]]},"legend":null}}},
{"transform":[{"filter":"datum.p=='W6b'"}],"mark":"point","encoding":{"x":{"field":"a","type":"quantitative"},"y":{"field":"v","type":"quantitative"},"color":{"field":"s","type":"nominal","scale":{"domain":["a","b","c","d","e"],"range":["#000000","#2ca02c","#ff3030","#ffa020","#3030d0"]},"legend":null},"shape":{"field":"s","type":"nominal","scale":{"domain":["a","b","c","d","e"],"range":["square","circle","M-1,-1L1,1M-1,1L1,-1","triangle-up","diamond"]},"legend":null},"fill":{"field":"s","type":"nominal","scale":{"domain":["a","b","c","d","e"],"range":["#000000","transparent","transparent","transparent","transparent"]},"legend":null}}},
{"data":{"values":[{}]},"mark":{"type":"text","text":"σₘₐₓ = 5.6e-04","color":"#000000","align":"right"},"encoding":{"x":{"datum":88},"y":{"datum":0.775}}},
{"data":{"values":[{}]},"mark":{"type":"text","text":"σₘₐₓ = 4.3e-04","color":"#2ca02c","align":"right"},"encoding":{"x":{"datum":88},"y":{"datum":0.73}}}
]}
],"spacing":0,"resolve":{"scale":{"color":"independent","shape":"independent","fill":"independent","strokeDash":"independent"},"legend":{"color":"independent","shape":"independent","fill":"independent","strokeDash":"independent"}}},
{"hconcat":[
{"width":81,"height":99,"data":{"name":"d"},"layer":[
{"transform":[{"filter":"datum.p=='G5'"}],"mark":"line","encoding":{"x":{"field":"a","type":"quantitative","scale":{"domain":[0,90]},"axis":{"values":[1,20,45,60,75,90],"tickCount":20,"labelOverlap":false,"title":"Solar elevation angle [°]"}},"y":{"field":"v","type":"quantitative","scale":{"domain":[0,0.8]},"axis":{"values":[0,0.1,0.2,0.3,0.4,0.5,0.6,0.7,0.8],"tickCount":20,"labelOverlap":false,"format":"~g","title":"Q\u0307G/Q\u0307D"}},"color":{"field":"s","type":"nominal","scale":{"domain":["a","b","c","d","e"],"range":["#000000","#2ca02c","#ff3030","#ffa020","#3030d0"]},"legend":null},"strokeDash":{"field":"s","type":"nominal","scale":{"domain":["a","b","c","d","e"],"range":[[3,1.5],[3,1.5],[1,1],[3,1.5],[1,1]]},"legend":null}}},
{"transform":[{"filter":"datum.p=='G5'"}],"mark":"point","encoding":{"x":{"field":"a","type":"quantitative"},"y":{"field":"v","type":"quantitative"},"color":{"field":"s","type":"nominal","scale":{"domain":["a","b","c","d","e"],"range":["#000000","#2ca02c","#ff3030","#ffa020","#3030d0"]},"legend":null},"shape":{"field":"s","type":"nominal","scale":{"domain":["a","b","c","d","e"],"range":["square","circle","M-1,-1L1,1M-1,1L1,-1","triangle-up","diamond"]},"legend":null},"fill":{"field":"s","type":"nominal","scale":{"domain":["a","b","c","d","e"],"range":["#000000","transparent","transparent","transparent","transparent"]},"legend":null}}},
{"data":{"values":[{}]},"mark":{"type":"text","text":"σₘₐₓ = 2.4e-04","color":"#000000"},"encoding":{"x":{"datum":2},"y":{"datum":0.775}}},
{"data":{"values":[{}]},"mark":{"type":"text","text":"σₘₐₓ = 1.3e-04","color":"#2ca02c"},"encoding":{"x":{"datum":2},"y":{"datum":0.73}}}
]},
{"width":81,"height":99,"data":{"name":"d"},"layer":[
{"transform":[{"filter":"datum.p=='G6a'"}],"mark":"line","encoding":{"x":{"field":"a","type":"quantitative","scale":{"domain":[0,90]},"axis":{"values":[1,20,45,60,75,90],"tickCount":20,"labelOverlap":false,"title":"Solar elevation angle [°]"}},"y":{"field":"v","type":"quantitative","scale":{"domain":[0,0.8]},"axis":{"values":[0,0.1,0.2,0.3,0.4,0.5,0.6,0.7,0.8],"tickCount":20,"labelOverlap":false,"format":"~g","title":"Q\u0307G/Q\u0307D"}},"color":{"field":"s","type":"nominal","scale":{"domain":["a","b","c","d","e"],"range":["#000000","#2ca02c","#ff3030","#ffa020","#3030d0"]},"legend":null},"strokeDash":{"field":"s","type":"nominal","scale":{"domain":["a","b","c","d","e"],"range":[[3,1.5],[3,1.5],[1,1],[3,1.5],[1,1]]},"legend":null}}},
{"transform":[{"filter":"datum.p=='G6a'"}],"mark":"point","encoding":{"x":{"field":"a","type":"quantitative"},"y":{"field":"v","type":"quantitative"},"color":{"field":"s","type":"nominal","scale":{"domain":["a","b","c","d","e"],"range":["#000000","#2ca02c","#ff3030","#ffa020","#3030d0"]},"legend":null},"shape":{"field":"s","type":"nominal","scale":{"domain":["a","b","c","d","e"],"range":["square","circle","M-1,-1L1,1M-1,1L1,-1","triangle-up","diamond"]},"legend":null},"fill":{"field":"s","type":"nominal","scale":{"domain":["a","b","c","d","e"],"range":["#000000","transparent","transparent","transparent","transparent"]},"legend":null}}},
{"data":{"values":[{}]},"mark":{"type":"text","text":"σₘₐₓ = 2e-04","color":"#000000"},"encoding":{"x":{"datum":2},"y":{"datum":0.775}}},
{"data":{"values":[{}]},"mark":{"type":"text","text":"σₘₐₓ = 1.4e-04","color":"#2ca02c"},"encoding":{"x":{"datum":2},"y":{"datum":0.73}}}
]},
{"width":81,"height":99,"data":{"name":"d"},"layer":[
{"transform":[{"filter":"datum.p=='G6b'"}],"mark":"line","encoding":{"x":{"field":"a","type":"quantitative","scale":{"domain":[0,90]},"axis":{"values":[1,20,45,60,75,90],"tickCount":20,"labelOverlap":false,"title":"Solar elevation angle [°]"}},"y":{"field":"v","type":"quantitative","scale":{"domain":[0,0.8]},"axis":{"values":[0,0.1,0.2,0.3,0.4,0.5,0.6,0.7,0.8],"tickCount":20,"labelOverlap":false,"format":"~g","title":"Q\u0307G/Q\u0307D"}},"color":{"field":"s","type":"nominal","scale":{"domain":["a","b","c","d","e"],"range":["#000000","#2ca02c","#ff3030","#ffa020","#3030d0"]},"legend":null},"strokeDash":{"field":"s","type":"nominal","scale":{"domain":["a","b","c","d","e"],"range":[[3,1.5],[3,1.5],[1,1],[3,1.5],[1,1]]},"legend":null}}},
{"transform":[{"filter":"datum.p=='G6b'"}],"mark":"point","encoding":{"x":{"field":"a","type":"quantitative"},"y":{"field":"v","type":"quantitative"},"color":{"field":"s","type":"nominal","scale":{"domain":["a","b","c","d","e"],"range":["#000000","#2ca02c","#ff3030","#ffa020","#3030d0"]},"legend":null},"shape":{"field":"s","type":"nominal","scale":{"domain":["a","b","c","d","e"],"range":["square","circle","M-1,-1L1,1M-1,1L1,-1","triangle-up","diamond"]},"legend":null},"fill":{"field":"s","type":"nominal","scale":{"domain":["a","b","c","d","e"],"range":["#000000","transparent","transparent","transparent","transparent"]},"legend":null}}},
{"data":{"values":[{}]},"mark":{"type":"text","text":"σₘₐₓ = 2.5e-04","color":"#000000"},"encoding":{"x":{"datum":2},"y":{"datum":0.775}}},
{"data":{"values":[{}]},"mark":{"type":"text","text":"σₘₐₓ = 1.4e-04","color":"#2ca02c"},"encoding":{"x":{"datum":2},"y":{"datum":0.73}}}
]}
],"spacing":0,"resolve":{"scale":{"color":"independent","shape":"independent","fill":"independent","strokeDash":"independent"},"legend":{"color":"independent","shape":"independent","fill":"independent","strokeDash":"independent"}}}
],
"config":{
"font":"Liberation Sans",
"view":{"stroke":"#999999","strokeWidth":0.7},
"axis":{"grid":false,"domain":false,"labelFontSize":6,"titleFontSize":7,"titleFontWeight":"normal","tickSize":2,"tickColor":"#666666","tickWidth":0.6,"labelPadding":1,"titlePadding":1.5,"labelColor":"#222222","titleColor":"#111111","labelOverlap":false,"labelFlush":false},
"title":{"font":"Liberation Serif","fontSize":7.5,"fontWeight":"normal","offset":2,"color":"#111111"},
"legend":{"orient":"top-left","offset":0,"padding":2.5,"fillColor":"white","strokeColor":"#aaaaaa","labelFontSize":5,"rowPadding":0.5,"symbolSize":7,"symbolStrokeWidth":0.6,"labelOffset":5,"title":null,"labelColor":"#111111"},
"line":{"strokeWidth":0.6},
"point":{"size":5,"strokeWidth":0.5,"filled":false,"opacity":1},
"text":{"fontSize":4.5,"align":"left","baseline":"middle","font":"DejaVu Sans"}
}
}
